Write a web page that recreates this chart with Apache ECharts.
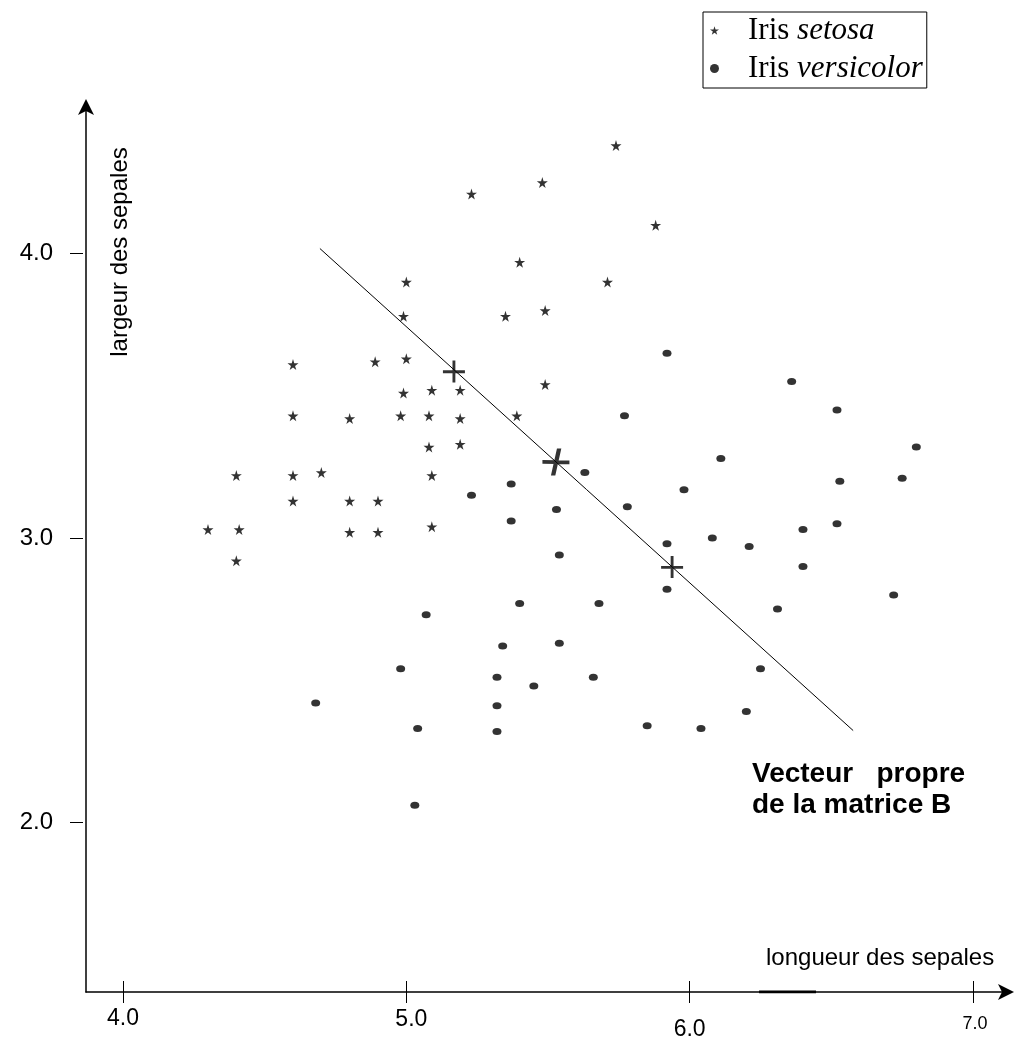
<!DOCTYPE html>
<html>
<head>
<meta charset="utf-8">
<script src="https://cdn.jsdelivr.net/npm/echarts@6/dist/echarts.min.js"></script>
<style>
html,body{margin:0;padding:0;background:#fff;}
#chart{width:1014px;height:1041px;}
</style>
</head>
<body>
<div id="chart"></div>
<script>
// ---- data (sepal length, sepal width) ----
const setosa = [
  [5.74,4.38],[5.48,4.25],[5.23,4.21],[5.88,4.10],[5.40,3.97],[5.71,3.90],
  [5.00,3.90],[4.99,3.78],[5.35,3.78],[5.49,3.80],[4.60,3.61],[4.89,3.62],
  [5.00,3.63],[4.99,3.51],[5.09,3.52],[5.19,3.52],[5.49,3.54],[4.60,3.43],
  [4.80,3.42],[4.98,3.43],[5.08,3.43],[5.19,3.42],[5.39,3.43],[5.08,3.32],
  [5.19,3.33],[4.40,3.22],[4.60,3.22],[4.70,3.23],[5.09,3.22],[4.60,3.13],
  [4.80,3.13],[4.90,3.13],[4.30,3.03],[4.41,3.03],[4.80,3.02],[4.90,3.02],
  [5.09,3.04],[4.40,2.92]
];
const versicolor = [
  [5.92,3.65],[5.77,3.43],[6.36,3.55],[6.52,3.45],[6.80,3.32],[6.11,3.28],
  [5.63,3.23],[5.37,3.19],[5.23,3.15],[5.98,3.17],[6.53,3.20],[6.75,3.21],
  [5.53,3.10],[5.78,3.11],[5.37,3.06],[6.52,3.05],[6.08,3.00],[6.40,3.03],
  [5.92,2.98],[6.21,2.97],[5.54,2.94],[6.40,2.90],[5.92,2.82],[6.72,2.80],
  [5.40,2.77],[5.68,2.77],[6.31,2.75],[5.07,2.73],[5.34,2.62],[5.54,2.63],
  [4.98,2.54],[6.25,2.54],[5.32,2.51],[5.45,2.48],[5.66,2.51],[4.68,2.42],
  [5.32,2.41],[6.20,2.39],[5.04,2.33],[5.32,2.32],[5.85,2.34],[6.04,2.33],
  [5.03,2.06]
];
const eigenLine = [[4.695,4.018],[6.577,2.323]];
const smallCrosses = [[5.168,3.586],[5.938,2.898]];
const centreCross = [[5.528,3.267]];
const xTicks = [4,5,6,7];
const yTicks = [2,3,4];
const legendNames = ['Iris setosa','Iris versicolor'];
const axisBlipX = [6.245,6.446];

// ---- layout helpers ----
const X_MIN = 4 - 37/283.33, X_MAX = X_MIN + 924/283.33;
const Y_MAX = 4 + 151/285, Y_MIN = 4 - 740/285;

const STAR = 'path://M50,0 L61,35 L98,35 L68,57 L79,91 L50,70 L21,91 L32,57 L2,35 L39,35 Z';
const PLUS = 'path://M0,9 L20,9 L20,11.6 L0,11.6 Z M8.7,0 L11.3,0 L11.3,20 L8.7,20 Z';
const BIGPLUS = 'path://M0,11 L26,11.4 L26,15 L0,14.6 Z M14,0 L18.2,0 L12.4,26 L8.2,26 Z';

const chart = echarts.init(document.getElementById('chart'));
const black = '#000';
const xLabelRich = {
  l4:{fontSize:23, fontFamily:'Liberation Sans', color:black, padding:[0,0,0,0]},
  l5:{fontSize:23, fontFamily:'Liberation Sans', color:black, padding:[1,0,0,10]},
  l6:{fontSize:23, fontFamily:'Liberation Sans', color:black, padding:[11,0,0,0]},
  l7:{fontSize:18, fontFamily:'Liberation Sans', color:black, padding:[8,0,0,4]}
};
chart.setOption({
  backgroundColor:'#fff',
  animation:false,
  grid:{left:86, right:4, top:103, bottom:47, containLabel:false},
  legend:{
    data:legendNames,
    orient:'vertical',
    left:703, top:12,
    itemWidth:9, itemHeight:9, itemGap:7,
    padding:[3,4,4,7],
    borderColor:black, borderWidth:1, borderRadius:0,
    backgroundColor:'#fff',
    selectedMode:false,
    formatter:function(name){
      const parts = name.split(' ');
      return '{n|' + parts[0] + ' }{i|' + parts[1] + '}';
    },
    textStyle:{
      color:black, fontFamily:'Liberation Serif', fontSize:31, padding:[0,0,0,24],
      rich:{
        n:{fontFamily:'Liberation Serif', fontSize:31, color:black},
        i:{fontFamily:'Liberation Serif', fontSize:31, fontStyle:'italic', color:black}
      }
    }
  },
  xAxis:[{
    type:'value', min:X_MIN, max:X_MAX, position:'bottom',
    axisLine:{show:true, onZero:false, lineStyle:{color:black, width:1.5},
      symbol:['none','arrow'], symbolSize:[12,16], symbolOffset:[0,4]},
    axisTick:{show:true, inside:false, length:11, lineStyle:{color:black, width:1}, customValues:xTicks},
    axisLabel:{show:true, margin:15, customValues:xTicks, verticalAlign:'top',
      formatter:function(v){ const k = Math.round(v); return '{l' + k + '|' + v.toFixed(1) + '}'; },
      rich:xLabelRich},
    splitLine:{show:false}
  },{
    type:'value', min:X_MIN, max:X_MAX, position:'bottom',
    axisLine:{show:false},
    axisTick:{show:true, inside:true, length:11, lineStyle:{color:black, width:1}, customValues:xTicks},
    axisLabel:{show:false},
    splitLine:{show:false}
  }],
  yAxis:[{
    type:'value', min:Y_MIN, max:Y_MAX, position:'left',
    axisLine:{show:true, onZero:false, lineStyle:{color:black, width:1.5},
      symbol:['none','arrow'], symbolSize:[12,16], symbolOffset:[0,4]},
    axisTick:{show:false},
    axisLabel:{show:true, margin:33, customValues:yTicks, color:black, fontSize:24,
      fontFamily:'Liberation Sans', padding:[0,0,6,0],
      formatter:function(v){ return v.toFixed(1); }},
    splitLine:{show:false}
  },{
    type:'value', min:Y_MIN, max:Y_MAX, position:'left', offset:3,
    axisLine:{show:false},
    axisTick:{show:true, inside:false, length:13, lineStyle:{color:black, width:1}, customValues:yTicks},
    axisLabel:{show:false},
    splitLine:{show:false}
  }],
  graphic:[
    {type:'text', x:120, y:252, rotation:Math.PI/2,
      style:{text:'largeur des sepales', fill:black, font:'24px "Liberation Sans"', align:'center', verticalAlign:'middle'}},
    {type:'text', x:766, y:958,
      style:{text:'longueur des sepales', fill:black, font:'24px "Liberation Sans"', align:'left', verticalAlign:'middle'}},
    {type:'text', x:752, y:774,
      style:{text:'Vecteur   propre', fill:black, font:'bold 28px "Liberation Sans"', align:'left', verticalAlign:'middle'}},
    {type:'text', x:752, y:805,
      style:{text:'de la matrice B', fill:black, font:'bold 28px "Liberation Sans"', align:'left', verticalAlign:'middle'}}
  ],
  series:[
    {name:'Iris setosa', type:'scatter', data:setosa, symbol:STAR, symbolSize:11,
      itemStyle:{color:black}, silent:true, z:3},
    {name:'Iris versicolor', type:'scatter', data:versicolor, symbol:'circle', symbolSize:[9,7],
      itemStyle:{color:black}, silent:true, z:3},
    {name:'vecteur', type:'line', data:eigenLine, showSymbol:false, symbol:'none',
      lineStyle:{color:black, width:1}, silent:true, z:2},
    {name:'centres', type:'scatter', data:smallCrosses, symbol:PLUS, symbolSize:22,
      itemStyle:{color:black}, silent:true, z:4},
    {name:'centre', type:'scatter', data:centreCross, symbol:BIGPLUS, symbolSize:27,
      itemStyle:{color:black}, silent:true, z:4},
    {name:'blip', type:'line', data:axisBlipX.map(function(x){ return [x, Y_MIN]; }), symbol:'none',
      lineStyle:{color:black, width:3}, silent:true, z:1}
  ]
});
</script>
</body>
</html>
